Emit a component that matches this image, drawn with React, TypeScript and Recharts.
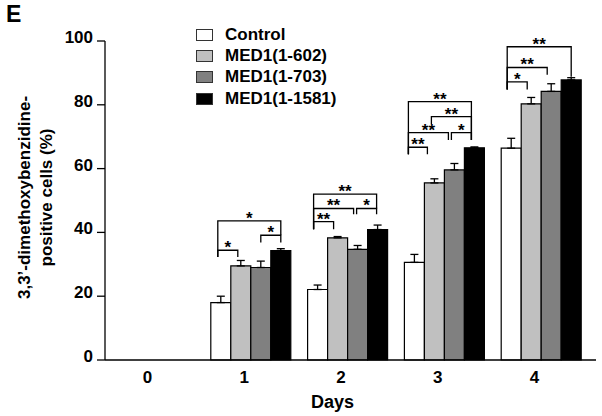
import { Bar, BarChart, ErrorBar, Legend, XAxis, YAxis } from 'recharts';

const FONT = '"Liberation Sans", Arial, sans-serif';

const days = ['0', '1', '2', '3', '4'];
const control = [null, 18, 22.1, 30.6, 66.4];
const controlErr = [null, 2, 1.4, 2.5, 3.1];
const med602 = [null, 29.5, 38.3, 55.5, 80.3];
const med602Err = [null, 1.7, 0.4, 1.3, 2];
const med703 = [null, 29, 34.7, 59.6, 84.2];
const med703Err = [null, 2, 1.2, 2, 2.4];
const med1581 = [null, 34.3, 40.9, 66.5, 87.8];
const med1581Err = [null, 0.6, 1.4, 0.3, 0.7];
const yTicks = [0, 20, 40, 60, 80, 100];

// day, from bar, to bar (bar index in group, fractional), level, left foot, right foot, stars
const brackets: [string, number, number, number, number, number, string][] = [
  ['1', -0.15, 0.85, 34.4, 32.3, 32.3, '*'],
  ['1', 2, 3, 39.1, 36.8, 36.8, '*'],
  ['1', -0.15, 3, 43.6, 32.3, 39.1, '*'],
  ['2', -0.2, 0.8, 43.4, 41, 41, '**'],
  ['2', -0.2, 1.8, 47.5, 41, 45.7, '**'],
  ['2', 1.95, 2.95, 47.5, 45.7, 45.7, '*'],
  ['2', -0.2, 2.95, 52, 41, 47.5, '**'],
  ['3', -0.3, 0.65, 66.7, 64.5, 64.5, '**'],
  ['3', -0.3, 1.7, 71.3, 64.5, 69, '**'],
  ['3', 1.85, 2.85, 71.3, 69, 69, '*'],
  ['3', 0.85, 2.85, 76.3, 73.9, 69, '**'],
  ['3', -0.3, 2.85, 81, 64.5, 69, '**'],
  ['4', -0.2, 0.8, 87.2, 84.8, 84.8, '*'],
  ['4', -0.2, 1.8, 91.7, 84.8, 89.4, '**'],
  ['4', -0.2, 3, 98.2, 84.8, 88.8, '**'],
];

const series = [
  { key: 'control', name: 'Control', fill: '#ffffff' },
  { key: 'med602', name: 'MED1(1-602)', fill: '#c0c0c0' },
  { key: 'med703', name: 'MED1(1-703)', fill: '#808080' },
  { key: 'med1581', name: 'MED1(1-1581)', fill: '#000000' },
];

const err = (v: number | null) => (v == null ? null : [0, v]);

const data = days.map((d, i) => ({
  day: d,
  control: control[i],
  controlErr: err(controlErr[i]),
  med602: med602[i],
  med602Err: err(med602Err[i]),
  med703: med703[i],
  med703Err: err(med703Err[i]),
  med1581: med1581[i],
  med1581Err: err(med1581Err[i]),
}));

// drawn from the last bar of each group: other bars sit at fixed multiples of its width
function Brackets(props: any) {
  const vb = props.viewBox || props;
  const { x, y, width, height } = vb;
  const value = Array.isArray(props.value) ? props.value[1] : props.value;
  if (!value || !height) return null;
  const idx = med1581.indexOf(value);
  const list = brackets.filter((b) => b[0] === days[idx]);
  const base = y + height;
  const py = (v: number) => base - (v * height) / value;
  const px = (s: number) => x + width / 2 - (3 - s) * width;
  return (
    <g>
      {list.map((b, i) => {
        const x1 = px(b[1]);
        const x2 = px(b[2]);
        const yl = py(b[3]);
        return (
          <g key={i}>
            <path
              d={`M${x1},${py(b[4])}V${yl}H${x2}V${py(b[5])}`}
              fill="none"
              stroke="#000"
              strokeWidth={1.3}
            />
            <text
              x={(x1 + x2) / 2}
              y={yl + 3}
              textAnchor="middle"
              fontFamily={FONT}
              fontWeight="bold"
              fontSize={17}
              fill="#000"
            >
              {b[6]}
            </text>
          </g>
        );
      })}
    </g>
  );
}

function LegendBox() {
  return (
    <div style={{ fontFamily: FONT }}>
      {series.map((s) => (
        <div key={s.key} style={{ display: 'flex', alignItems: 'center', height: 21.4 }}>
          <span
            style={{
              display: 'inline-block',
              width: 15,
              height: 10,
              border: '1px solid #333',
              background: s.fill,
              marginRight: 12,
            }}
          />
          <span style={{ fontSize: 17, fontWeight: 'bold', color: '#000' }}>{s.name}</span>
        </div>
      ))}
    </div>
  );
}

function YLabel(props: any) {
  const vb = props.viewBox;
  const cy = vb.y + vb.height / 2 - 3;
  return (
    <g transform={`rotate(-90, 36, ${cy})`}>
      <text
        x={36}
        y={cy}
        textAnchor="middle"
        fontFamily={FONT}
        fontWeight="bold"
        fontSize={17}
        fill="#000"
      >
        <tspan x={36} dy={-6}>3,3’-dimethoxybenzidine-</tspan>
        <tspan x={36} dy={22}>positive cells (%)</tspan>
      </text>
    </g>
  );
}

export default function App() {
  return (
    <div style={{ position: 'absolute', left: 0, top: 0, width: 602, height: 416, background: '#fff' }}>
      <div
        style={{
          position: 'absolute',
          left: 6,
          top: 1,
          fontFamily: FONT,
          fontWeight: 'bold',
          fontSize: 23,
          color: '#000',
        }}
      >
        E
      </div>
      <BarChart
        width={602}
        height={416}
        data={data}
        margin={{ top: 41, right: 6, bottom: 0, left: 0 }}
        barCategoryGap={9}
        barGap={0}
      >
        <XAxis
          dataKey="day"
          height={56}
          padding={{ left: 0, right: 7 }}
          axisLine={{ stroke: '#000', strokeWidth: 1.3 }}
          tickLine={false}
          tickSize={0}
          tickMargin={11}
          tick={{ fill: '#000', fontSize: 17, fontWeight: 'bold', fontFamily: FONT, dx: -6 }}
          label={{
            value: 'Days',
            position: 'insideBottom',
            offset: 8,
            dx: -18,
            fill: '#000',
            fontSize: 18,
            fontWeight: 'bold',
            fontFamily: FONT,
          }}
        />
        <YAxis
          width={105}
          domain={[0, 100]}
          ticks={yTicks}
          interval={0}
          axisLine={{ stroke: '#000', strokeWidth: 1.3 }}
          tickLine={{ stroke: '#000', strokeWidth: 1.3 }}
          tickSize={8}
          tickMargin={4}
          tick={{ fill: '#000', fontSize: 17, fontWeight: 'bold', fontFamily: FONT, dy: -4 }}
          label={<YLabel />}
        />
        <Legend
          layout="vertical"
          align="center"
          verticalAlign="middle"
          content={<LegendBox />}
          wrapperStyle={{ top: 24, left: 196, width: 'auto' }}
        />
        {series.map((s) => (
          <Bar
            key={s.key}
            dataKey={s.key}
            name={s.name}
            fill={s.fill}
            stroke="#000"
            strokeWidth={1.2}
            isAnimationActive={false}
            label={s.key === 'med1581' ? Brackets : undefined}
          >
            <ErrorBar dataKey={`${s.key}Err`} width={4} stroke="#000" strokeWidth={1.3} direction="y" />
          </Bar>
        ))}
      </BarChart>
    </div>
  );
}
